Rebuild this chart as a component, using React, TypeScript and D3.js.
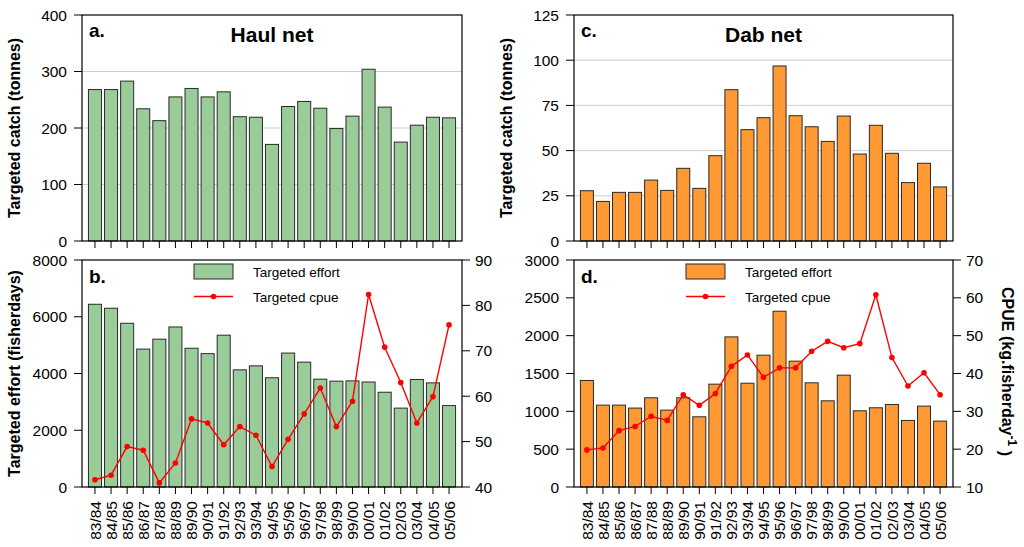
import React from 'react';
import * as d3 from 'd3';

// Fishing seasons (x categories)
const seasons = [
  '83/84', '84/85', '85/86', '86/87', '87/88', '88/89', '89/90', '90/91',
  '91/92', '92/93', '93/94', '94/95', '95/96', '96/97', '97/98', '98/99',
  '99/00', '00/01', '01/02', '02/03', '03/04', '04/05', '05/06',
];

// Haul net: targeted catch (tonnes), effort (fisherdays), cpue (kg/fisherday)
const haulCatch = [268, 268, 283, 234, 213, 255, 270, 255, 264, 220, 219, 171, 238, 247, 235, 199, 221, 304, 237, 175, 205, 219, 218];
const haulEffort = [6440, 6300, 5770, 4860, 5210, 5640, 4890, 4700, 5350, 4130, 4270, 3850, 4720, 4400, 3800, 3730, 3740, 3700, 3340, 2780, 3790, 3670, 2870];
const haulCpue = [41.6, 42.6, 48.9, 48.1, 40.9, 45.3, 55.0, 54.1, 49.3, 53.3, 51.4, 44.5, 50.5, 56.1, 61.8, 53.3, 58.9, 82.4, 70.8, 63.0, 54.1, 59.9, 75.7];

// Dab net: targeted catch (tonnes), effort (fisherdays), cpue (kg/fisherday)
const dabCatch = [27.8, 21.9, 26.9, 26.9, 33.7, 28.0, 40.2, 29.1, 47.2, 83.7, 61.6, 68.2, 96.8, 69.3, 63.2, 55.1, 69.1, 48.1, 64.0, 48.5, 32.3, 43.0, 29.9];
const dabEffort = [1408, 1082, 1082, 1043, 1179, 1016, 1179, 928, 1359, 1984, 1372, 1742, 2323, 1663, 1377, 1139, 1478, 1007, 1047, 1091, 880, 1069, 871];
const dabCpue = [19.8, 20.3, 24.9, 26.0, 28.7, 27.6, 34.4, 31.6, 34.7, 41.9, 44.9, 39.0, 41.5, 41.5, 45.9, 48.5, 46.8, 47.9, 60.8, 44.2, 36.7, 40.2, 34.4];

// Axis tick values
const haulCatchTicks = [0, 100, 200, 300, 400];
const haulEffortTicks = [0, 2000, 4000, 6000, 8000];
const haulCpueTicks = [40, 50, 60, 70, 80, 90];
const dabCatchTicks = [0, 25, 50, 75, 100, 125];
const dabEffortTicks = [0, 500, 1000, 1500, 2000, 2500, 3000];
const dabCpueTicks = [10, 20, 30, 40, 50, 60, 70];

const FONT = "'Liberation Sans', Arial, sans-serif";
const GREEN = '#99cc99';
const ORANGE = '#ff9933';
const BAR_STROKE = '#2a2a2a';
const RED = '#ff0000';

const LEFT = { x0: 82, x1: 462 };
const RIGHT = { x0: 574, x1: 953 };
const TOP = { y0: 15, y1: 241 };
const BOTTOM = { y0: 260, y1: 487 };

function bandFor(x0: number, x1: number) {
  return d3.scaleBand<string>().domain(seasons).range([x0, x1]).paddingInner(0.19).paddingOuter(0.4);
}

function CatchPanel(props: {
  x0: number; x1: number; y0: number; y1: number;
  values: number[]; ticks: number[]; fill: string;
  letter: string; title: string; yTitle?: string;
}) {
  const { x0, x1, y0, y1, values, ticks, fill, letter, title, yTitle } = props;
  const xs = bandFor(x0, x1);
  const ys = d3.scaleLinear().domain([ticks[0], ticks[ticks.length - 1]]).range([y1, y0]);
  const bw = xs.bandwidth();
  return (
    <g>
      {ticks.slice(1, -1).map((t) => (
        <line key={'g' + t} x1={x0} x2={x1} y1={ys(t)} y2={ys(t)} stroke="#cfcfcf" strokeWidth={1} />
      ))}
      {values.map((v, i) => (
        <rect key={i} x={xs(seasons[i])} y={ys(v)} width={bw} height={y1 - ys(v)}
          fill={fill} stroke={BAR_STROKE} strokeWidth={1} />
      ))}
      <rect x={x0} y={y0} width={x1 - x0} height={y1 - y0} fill="none" stroke="#000" strokeWidth={1.2} />
      {ticks.map((t) => (
        <g key={'t' + t}>
          <line x1={x0 - 8} x2={x0} y1={ys(t)} y2={ys(t)} stroke="#000" />
          <text x={x0 - 15} y={ys(t)} dy="0.36em" textAnchor="end" fontSize={15.5}>{t}</text>
        </g>
      ))}
      {seasons.map((s) => (
        <line key={'x' + s} x1={xs(s)! + bw / 2} x2={xs(s)! + bw / 2} y1={y1} y2={y1 + 7} stroke="#000" />
      ))}
      <text x={x0 + 7} y={y0 + 22} fontSize={19} fontWeight="bold">{letter}</text>
      <text x={(x0 + x1) / 2} y={y0 + 27} fontSize={21} fontWeight="bold" textAnchor="middle">{title}</text>
      {yTitle && (
        <text transform={`translate(${x0 - 62},${(y0 + y1) / 2}) rotate(-90)`} textAnchor="middle"
          fontSize={16} fontWeight="bold">{yTitle}</text>
      )}
    </g>
  );
}

function EffortPanel(props: {
  x0: number; x1: number; y0: number; y1: number;
  effort: number[]; cpue: number[]; effortTicks: number[]; cpueTicks: number[];
  fill: string; letter: string; yTitle?: string; rightTitle?: boolean;
}) {
  const { x0, x1, y0, y1, effort, cpue, effortTicks, cpueTicks, fill, letter, yTitle, rightTitle } = props;
  const xs = bandFor(x0, x1);
  const bw = xs.bandwidth();
  const ye = d3.scaleLinear().domain([effortTicks[0], effortTicks[effortTicks.length - 1]]).range([y1, y0]);
  const yc = d3.scaleLinear().domain([cpueTicks[0], cpueTicks[cpueTicks.length - 1]]).range([y1, y0]);
  const cx = (i: number) => xs(seasons[i])! + bw / 2;
  const line = d3.line<number>().x((_, i) => cx(i)).y((d) => yc(d));
  const lx = x0 + 112;
  return (
    <g>
      {effort.map((v, i) => (
        <rect key={i} x={xs(seasons[i])} y={ye(v)} width={bw} height={y1 - ye(v)}
          fill={fill} stroke={BAR_STROKE} strokeWidth={1} />
      ))}
      <path d={line(cpue) || ''} fill="none" stroke={RED} strokeWidth={1.4} />
      {cpue.map((v, i) => (
        <circle key={'c' + i} cx={cx(i)} cy={yc(v)} r={2.8} fill={RED} />
      ))}
      <rect x={x0} y={y0} width={x1 - x0} height={y1 - y0} fill="none" stroke="#000" strokeWidth={1.2} />
      {effortTicks.map((t) => (
        <g key={'e' + t}>
          <line x1={x0 - 8} x2={x0} y1={ye(t)} y2={ye(t)} stroke="#000" />
          <text x={x0 - 15} y={ye(t)} dy="0.36em" textAnchor="end" fontSize={15.5}>{t}</text>
        </g>
      ))}
      {cpueTicks.map((t) => (
        <g key={'c' + t}>
          <line x1={x1} x2={x1 + 8} y1={yc(t)} y2={yc(t)} stroke="#000" />
          <text x={x1 + 13} y={yc(t)} dy="0.36em" textAnchor="start" fontSize={15.5}>{t}</text>
        </g>
      ))}
      {seasons.map((s, i) => (
        <g key={'x' + s}>
          <line x1={cx(i)} x2={cx(i)} y1={y1} y2={y1 + 7} stroke="#000" />
          <text transform={`translate(${cx(i)},${y1 + 14}) rotate(-90)`} dy="0.36em" textAnchor="end"
            fontSize={15.5}>{s}</text>
        </g>
      ))}
      <text x={x0 + 7} y={y0 + 22.5} fontSize={19} fontWeight="bold">{letter}</text>
      {/* legend */}
      <rect x={lx} y={y0 + 4} width={39} height={15} fill={fill} stroke={BAR_STROKE} strokeWidth={1} />
      <text x={lx + 59} y={y0 + 16.5} fontSize={13.5}>Targeted effort</text>
      <line x1={lx} x2={lx + 39} y1={y0 + 36.5} y2={y0 + 36.5} stroke={RED} strokeWidth={1.4} />
      <circle cx={lx + 19.5} cy={y0 + 36.5} r={2.8} fill={RED} />
      <text x={lx + 59} y={y0 + 41.5} fontSize={13.5}>Targeted cpue</text>
      {yTitle && (
        <text transform={`translate(${x0 - 62},${(y0 + y1) / 2}) rotate(-90)`} textAnchor="middle"
          fontSize={16} fontWeight="bold">{yTitle}</text>
      )}
      {rightTitle && (
        <text transform={`translate(${x1 + 49},${(y0 + y1) / 2 - 2}) rotate(90)`} textAnchor="middle"
          fontSize={16} fontWeight="bold">
          CPUE (kg.fisherday<tspan dy="-0.5em" fontSize={12}>-1</tspan><tspan dy="0.5em"> )</tspan>
        </text>
      )}
    </g>
  );
}

export default function App() {
  return (
    <svg width={1024} height={547} viewBox="0 0 1024 547"
      style={{ position: 'absolute', left: 0, top: 0, background: '#fff' }}
      fontFamily={FONT} fill="#000">
      <rect x={0} y={0} width={1024} height={547} fill="#fff" />
      <CatchPanel {...LEFT} {...TOP} values={haulCatch} ticks={haulCatchTicks} fill={GREEN}
        letter="a." title="Haul net" yTitle="Targeted catch (tonnes)" />
      <EffortPanel {...LEFT} {...BOTTOM} effort={haulEffort} cpue={haulCpue}
        effortTicks={haulEffortTicks} cpueTicks={haulCpueTicks} fill={GREEN}
        letter="b." yTitle="Targeted effort (fisherdays)" />
      <CatchPanel {...RIGHT} {...TOP} values={dabCatch} ticks={dabCatchTicks} fill={ORANGE}
        letter="c." title="Dab net" yTitle="Targeted catch (tonnes)" />
      <EffortPanel {...RIGHT} {...BOTTOM} effort={dabEffort} cpue={dabCpue}
        effortTicks={dabEffortTicks} cpueTicks={dabCpueTicks} fill={ORANGE}
        letter="d." rightTitle />
    </svg>
  );
}
